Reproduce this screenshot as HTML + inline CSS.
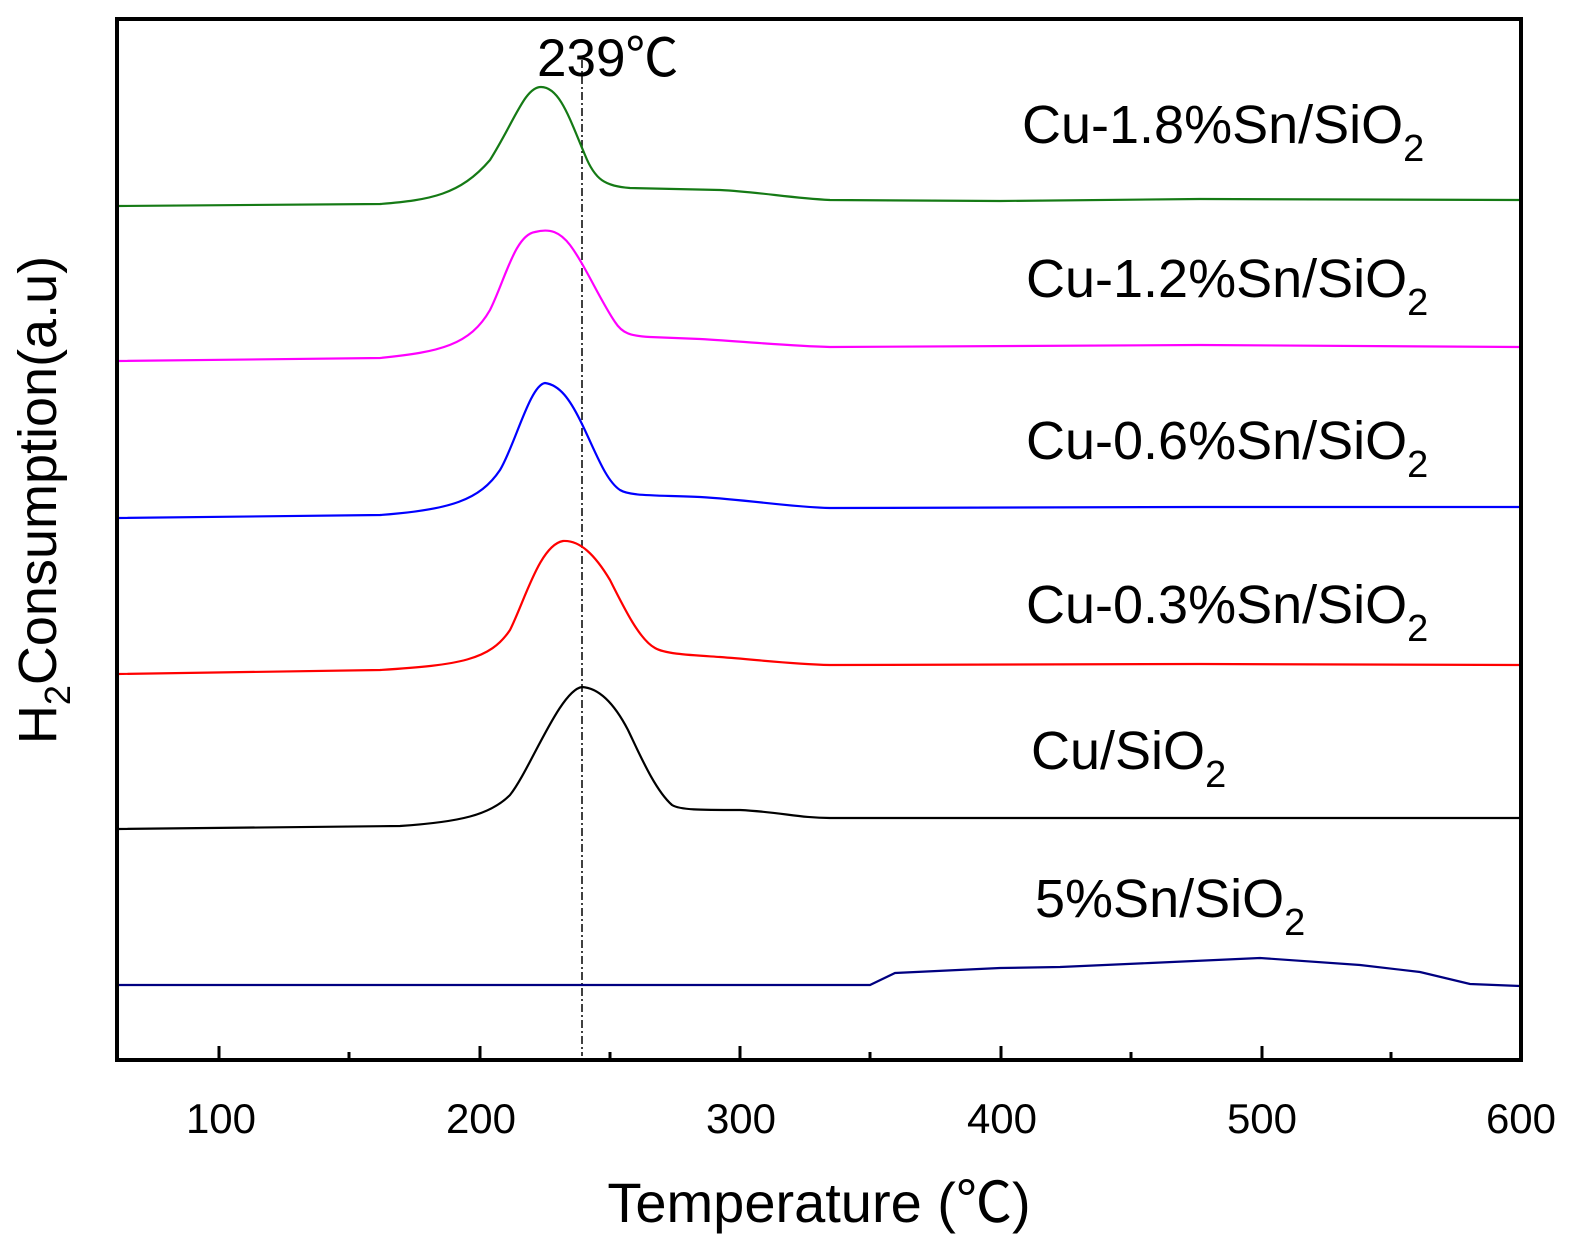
<!DOCTYPE html>
<html><head><meta charset="utf-8"><style>
html,body{margin:0;padding:0;background:#fff;}
svg{display:block;}
text{font-family:"Liberation Sans","Noto Sans CJK SC",sans-serif;fill:#000;}
</style></head><body>
<svg width="1587" height="1260" viewBox="0 0 1587 1260" xmlns="http://www.w3.org/2000/svg">
<rect x="0" y="0" width="1587" height="1260" fill="#fff"/>
<line x1="582" y1="60" x2="582" y2="1056" stroke="#000" stroke-width="1.5" stroke-dasharray="8,3,2,3"/>
<g fill="none" stroke-width="2.2">
<path stroke="#157a15" d="M117,206 L380,204 C430,200 460,195 490,160 C515,120 525,87 541,87 C560,87 570,120 585,155 C595,180 605,186 630,188 L720,190 C760,192 790,198 830,200 L1000,201 L1200,199 L1520,200"/>
<path stroke="#ff00ff" d="M117,361 L380,358 C440,352 470,345 490,310 C505,280 515,235 535,232 C550,228 560,232 570,245 C585,265 600,300 615,322 C622,333 630,336 650,337 L700,339 C750,342 790,346 830,347 L1200,345 L1520,347"/>
<path stroke="#0000ff" d="M117,518 L380,515 C450,510 480,500 500,470 C515,445 530,385 545,383 C560,385 570,400 580,420 C595,450 605,480 620,490 C630,496 650,495 700,497 C750,500 790,507 830,508 L1200,507 L1520,507"/>
<path stroke="#ff0000" d="M117,674 L380,670 C460,665 490,660 510,630 C525,600 540,545 563,541 C580,540 595,555 610,580 C625,610 640,640 655,648 C665,654 690,655 720,657 C760,660 790,664 830,665 L1200,664 L1520,665"/>
<path stroke="#000" d="M117,829 L400,826 C460,822 490,815 510,795 C530,770 560,690 582,687 C600,688 615,705 628,730 C640,755 655,790 672,805 C680,810 700,810 740,810 C780,812 800,818 830,818 L1520,818"/>
<path stroke="#000080" d="M117,985 L870,985 L895,973 L1000,968 L1060,967 L1150,963 L1260,958 L1360,965 L1420,972 L1470,984 L1520,986"/>
</g>
<rect x="117" y="19" width="1404" height="1041" fill="none" stroke="#000" stroke-width="4"/>
<g stroke="#000" stroke-width="3">
<line x1="219" y1="1060" x2="219" y2="1046"/><line x1="480" y1="1060" x2="480" y2="1046"/>
<line x1="740" y1="1060" x2="740" y2="1046"/><line x1="1001" y1="1060" x2="1001" y2="1046"/>
<line x1="1262" y1="1060" x2="1262" y2="1046"/>
<line x1="349" y1="1060" x2="349" y2="1052"/><line x1="610" y1="1060" x2="610" y2="1052"/>
<line x1="870" y1="1060" x2="870" y2="1052"/><line x1="1131" y1="1060" x2="1131" y2="1052"/>
<line x1="1391" y1="1060" x2="1391" y2="1052"/>
</g>
<g font-size="42" text-anchor="middle">
<text x="221" y="1133">100</text><text x="481" y="1133">200</text><text x="741" y="1133">300</text>
<text x="1002" y="1133">400</text><text x="1262" y="1133">500</text><text x="1521" y="1133">600</text>
</g>
<text x="819" y="1222" font-size="56" text-anchor="middle">Temperature (℃)</text>
<text transform="translate(56,500) rotate(-90)" font-size="54" text-anchor="middle">H<tspan font-size="36" dy="14">2</tspan><tspan dy="-14">Consumption(a.u)</tspan></text>
<text x="537" y="76" font-size="53">239℃</text>
<g font-size="54">
<text x="1022" y="143">Cu-1.8%Sn/SiO<tspan font-size="38" dy="18">2</tspan></text>
<text x="1026" y="297">Cu-1.2%Sn/SiO<tspan font-size="38" dy="18">2</tspan></text>
<text x="1026" y="459">Cu-0.6%Sn/SiO<tspan font-size="38" dy="18">2</tspan></text>
<text x="1026" y="623">Cu-0.3%Sn/SiO<tspan font-size="38" dy="18">2</tspan></text>
<text x="1031" y="769">Cu/SiO<tspan font-size="38" dy="18">2</tspan></text>
<text x="1035" y="917">5%Sn/SiO<tspan font-size="38" dy="18">2</tspan></text>
</g>
</svg>
</body></html>
